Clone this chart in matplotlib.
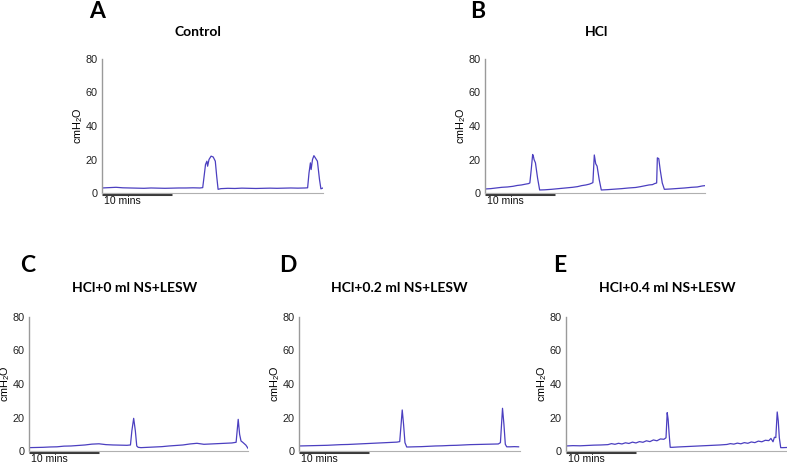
import matplotlib
matplotlib.use("Agg")
import matplotlib.pyplot as plt

plt.rcParams['font.family'] = ['Liberation Sans', 'DejaVu Sans']
plt.rcParams['mathtext.fontset'] = 'custom'
plt.rcParams['mathtext.rm'] = 'Liberation Sans'
plt.rcParams['mathtext.it'] = 'Liberation Sans'

# ---- data: time (min) / pressure (cmH2O) breakpoints ----
a_t = [0, 1, 2, 3, 4, 5, 6, 7, 8, 9, 10, 11, 12, 13, 14, 14.4, 14.6, 14.8, 15.0, 15.1, 15.3,
       15.6, 15.9, 16.2, 16.4, 16.6, 17, 18, 19, 20, 21, 22, 23, 24, 25, 26, 27, 28, 29, 29.4,
       29.6, 29.8, 29.9, 30.1, 30.3, 30.5, 30.8, 31.1, 31.3, 31.6]
a_v = [3.0, 3.2, 3.4, 3.1, 3.0, 2.9, 2.8, 3.0, 2.9, 2.8, 2.9, 3.0, 3.0, 3.1, 3.0, 3.2, 10, 17,
       19, 16, 20, 22, 21.5, 19, 10, 2.2, 2.6, 2.8, 2.7, 2.9, 2.8, 2.7, 2.8, 2.9, 2.8, 2.9,
       3.0, 2.9, 3.0, 3.1, 12, 18, 14, 20, 22.3, 21, 19, 8, 2.5, 3.0]

b_t = [0, 0.8, 1.6, 2.4, 3.2, 4.0, 4.6, 5.2, 5.8, 6.2, 6.4, 6.6, 6.8, 6.9, 7.0, 7.2, 7.5,
       7.8, 8.5, 9.5, 10.5, 11.5, 12.5, 13.2, 13.8, 14.4, 14.9, 15.2, 15.4, 15.6, 15.8, 16.0,
       16.3, 16.6, 17.5, 18.5, 19.5, 20.5, 21.5, 22.2, 22.8, 23.4, 23.9, 24.2, 24.5, 24.6,
       24.8, 25.0, 25.3, 25.6, 26.5, 27.5, 28.5, 29.5, 30.3, 31.0, 31.4]
b_v = [2.4, 2.6, 3.0, 3.4, 3.6, 4.0, 4.5, 4.8, 5.3, 5.6, 6.0, 14, 23, 22, 20, 18, 9, 1.8, 1.9,
       2.2, 2.6, 3.0, 3.4, 3.8, 4.4, 4.8, 5.3, 5.8, 6.2, 22.7, 17.5, 16, 8, 1.8, 2.0, 2.3, 2.6,
       3.0, 3.3, 3.8, 4.3, 4.8, 5.0, 5.6, 6.0, 21, 20.5, 14, 6, 2.2, 2.4, 2.7, 3.0, 3.4, 3.6,
       4.2, 4.4]

c_t = [0, 1, 2, 3, 4, 5, 6, 7, 8, 9, 10, 11, 12, 13, 14, 14.5, 14.7, 14.96, 15.2, 15.4,
       15.6, 16, 17, 18, 19, 20, 21, 22, 23, 24, 25, 26, 27, 28, 29, 29.6, 29.9, 30.1, 30.3,
       30.6, 31.0, 31.3]
c_v = [2.0, 2.1, 2.2, 2.4, 2.5, 2.9, 3.0, 3.3, 3.6, 4.1, 4.3, 3.8, 3.6, 3.5, 3.4, 3.6, 12,
       19.5, 12, 3, 2.2, 2.0, 2.2, 2.4, 2.6, 3.0, 3.3, 3.6, 4.2, 4.6, 4.0, 4.2, 4.4, 4.6, 4.8,
       5.2, 18.9, 10, 6.0, 5.0, 3.5, 1.6]

d_t = [0, 1, 2, 3, 4, 5, 6, 7, 8, 9, 10, 11, 12, 13, 14, 14.4, 14.6, 14.76, 14.95, 15.15,
       15.4, 15.7, 16.5, 17.5, 18.5, 19.5, 20.5, 21.5, 22.5, 23.5, 24.5, 25.5, 26.5, 27.5,
       28.5, 28.8, 29.1, 29.3, 29.5, 29.7, 30.2, 30.8, 31.4]
d_v = [3.0, 3.1, 3.2, 3.3, 3.4, 3.6, 3.8, 3.9, 4.1, 4.3, 4.5, 4.7, 4.9, 5.1, 5.3, 5.6, 16,
       24.5, 16, 5, 2.4, 2.4, 2.5, 2.6, 2.8, 3.0, 3.1, 3.3, 3.4, 3.6, 3.8, 3.9, 4.0, 4.1, 4.2,
       5.0, 25.5, 16, 4, 2.5, 2.5, 2.6, 2.5]

e_t = [0, 1, 2, 3, 4, 5, 6, 6.5, 7, 7.5, 8, 8.5, 9, 9.5, 10, 10.5, 11, 11.5, 12, 12.5, 13,
       13.5, 14, 14.3, 14.47, 14.6, 14.75, 14.9, 15.2, 16, 17, 18, 19, 20, 21, 22, 23, 23.5,
       24, 24.5, 25, 25.5, 26, 26.5, 27, 27.5, 28, 28.5, 29, 29.3, 29.6, 29.8, 30.0, 30.2,
       30.35, 30.5, 30.7, 31.0, 31.6]
e_v = [3.0, 3.2, 3.1, 3.3, 3.5, 3.6, 3.8, 4.4, 4.0, 4.6, 4.2, 4.9, 4.5, 5.3, 4.8, 5.6, 5.2,
       6.1, 5.6, 6.6, 6.1, 7.2, 7.0, 7.9, 22.9, 19, 10, 2.2, 2.2, 2.4, 2.6, 2.8, 3.0, 3.2,
       3.4, 3.6, 3.9, 4.4, 4.1, 4.7, 4.3, 5.0, 4.6, 5.4, 5.0, 5.9, 5.5, 6.4, 6.2, 7.5, 5.5,
       8.2, 8.0, 23.3, 18, 8, 2.0, 2.0, 2.1]

titles = ["Control", "HCl", "HCl+0 ml NS+LESW", "HCl+0.2 ml NS+LESW", "HCl+0.4 ml NS+LESW"]
letters = ["A", "B", "C", "D", "E"]
y_ticks = [0, 20, 40, 60, 80]
series = [(a_t, a_v), (b_t, b_v), (c_t, c_v), (d_t, d_v), (e_t, e_v)]

W, H = 787, 463
fig = plt.figure(figsize=(W / 100, H / 100), dpi=100)

# pixel layout: (x0, y0 bottom, width, x-extent in minutes, title x, letter x)
layout = [
    (102, 193, 221, 31.6, 198, 97),
    (485, 193, 220, 31.4, 597, 478),
    (29, 451, 219, 31.3, 135, 28),
    (299, 451, 221, 31.6, 399, 288),
    (566, 451, 221, 31.6, 667, 560),
]
AX_H = 134
TRACE = '#4b3fc0'

for i, (x0, yb, w, tmax, tx, lx) in enumerate(layout):
    ax = fig.add_axes([x0 / W, 1 - yb / H, w / W, AX_H / H])
    t, v = series[i]
    ax.plot(t, v, color=TRACE, lw=0.9)
    ax.set_xlim(0, tmax)
    ax.set_ylim(0, 80)
    ax.set_yticks(y_ticks)
    ax.set_yticklabels([str(y) for y in y_ticks], fontsize=7.8, color='#222222')
    ax.tick_params(axis='y', length=0, pad=3)
    ax.set_xticks([])
    for s in ['top', 'right']:
        ax.spines[s].set_visible(False)
    ax.spines['left'].set_color('#9a9a9a')
    ax.spines['bottom'].set_color('#b0b0b0')
    ax.spines['left'].set_linewidth(1.0)
    ax.spines['bottom'].set_linewidth(0.8)
    ax.set_ylabel(r'cmH$_\mathregular{2}$O', fontsize=7.8, va='center')
    ax.yaxis.set_label_coords(-23.5 / w, 0.5)
    # 10 min scale bar
    ax.plot([0, 10], [-0.6, -0.6], color='#3a3a3a', lw=2.2, clip_on=False,
            solid_capstyle='butt')
    ax.annotate('10 mins', xy=(0.3, 0), xytext=(0, -1.8), textcoords='offset points',
                fontsize=7.6, ha='left', va='top', color='#111111')
    ty = 32 if i < 2 else 288
    ly = 11 if i < 2 else 266
    fig.text(tx / W, 1 - ty / H, titles[i], fontsize=10, fontweight='bold',
             family='Lato', ha='center', va='center')
    fig.text(lx / W, 1 - ly / H, letters[i], fontsize=16.5, fontweight='bold',
             family='Lato', ha='center', va='center')

fig.savefig('out.png', dpi=100)
